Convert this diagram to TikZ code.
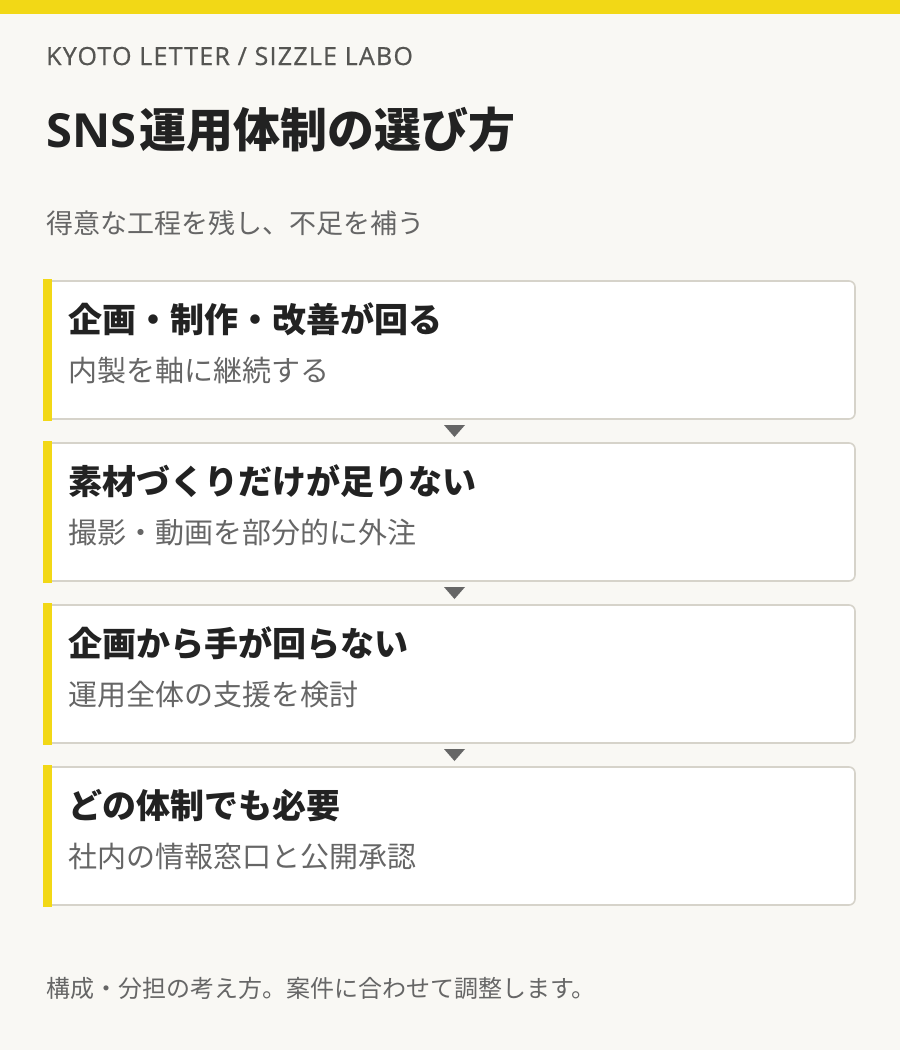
\documentclass[tikz,border=0pt]{standalone}
\usepackage{fontspec}
\setmainfont{Noto Sans CJK JP}
\newfontfamily\latin{Open Sans}
\newfontfamily\brandfont[FakeBold=0.6, LetterSpace=5]{Open Sans}
\usetikzlibrary{positioning, calc}

\definecolor{paper}{HTML}{F9F8F4}
\definecolor{sizzle}{HTML}{F2D816}
\definecolor{rule}{HTML}{D6D3CA}
\definecolor{ink}{HTML}{222222}
\definecolor{inkmid}{HTML}{555552}
\definecolor{inklight}{HTML}{666666}

\tikzset{
  card/.style={draw=rule, line width=1.6pt, fill=white, rounded corners=6pt,
    minimum width=810pt, minimum height=138pt, inner sep=0pt},
  head/.style={anchor=base west, inner sep=0pt, text=ink,
    font=\fontsize{34}{40}\selectfont\bfseries},
  sub/.style={anchor=base west, inner sep=0pt, text=inklight,
    font=\fontsize{29}{34}\selectfont},
  plain/.style={anchor=base west, inner sep=0pt},
}

\begin{document}
\begin{tikzpicture}[x=1pt, y=-1pt]
  \useasboundingbox[fill=paper] (0,0) rectangle (900,1050);
  \fill[sizzle] (0,0) rectangle (900,14);

  \node[plain, text=inkmid, font=\fontsize{25}{30}\selectfont\brandfont] (brand) at (46,65) {KYOTO LETTER / SIZZLE LABO};
  \node[plain, text=ink, font=\fontsize{47}{54}\selectfont\bfseries] (title) at (46,147) {{\latin\bfseries SNS}\kern3pt 運用体制の選び方};
  \node[plain, text=inklight, font=\fontsize{27}{32}\selectfont] (lead) at (46,233) {得意な工程を残し、不足を補う};

  % cards
  \foreach \i/\y/\t/\s in {1/350/企画・制作・改善が回る/内製を軸に継続する,
                          2/512/素材づくりだけが足りない/撮影・動画を部分的に外注,
                          3/674/企画から手が回らない/運用全体の支援を検討,
                          4/836/どの体制でも必要/社内の情報窓口と公開承認} {
    \node[card] (c\i) at (450,\y) {};
    \fill[sizzle] ($(c\i.north west)+(-1,-1)$) rectangle ($(c\i.south west)+(8,1)$);
    \node[head] (h\i) at ($(c\i.north west)+(24,52)$) {\t};
    \node[sub] (s\i) at ($(c\i.north west)+(24,101)$) {\s};
  }

  % arrows between cards
  \foreach \i/\j in {1/2,2/3,3/4} {
    \coordinate (a\i) at ($(c\i.south)!.5!(c\j.north)+(4.5,0)$);
    \fill[inklight] ($(a\i)+(-10.5,-6)$) -- ($(a\i)+(10.5,-6)$) -- ($(a\i)+(0,6)$) -- cycle;
  }

  \node[plain, text=inklight, font=\fontsize{24}{28}\selectfont] (note) at (46,997) {構成・分担の考え方。案件に合わせて調整します。};
\end{tikzpicture}
\end{document}
